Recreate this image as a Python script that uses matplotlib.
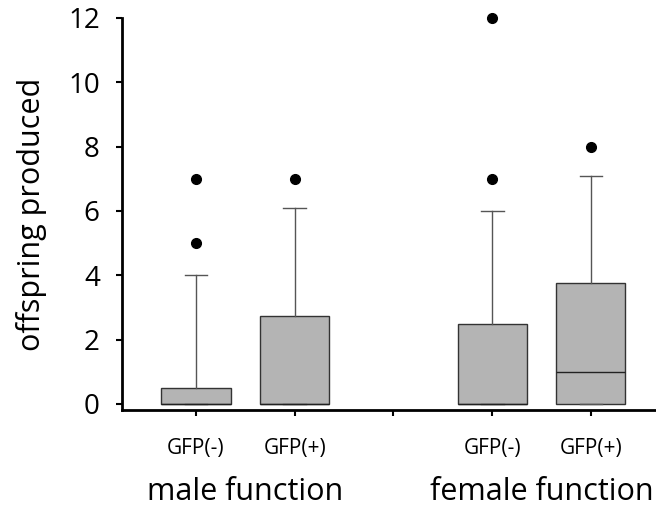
import matplotlib
matplotlib.use("Agg")
import matplotlib.pyplot as plt

plt.rcParams['font.family'] = ['Open Sans', 'DejaVu Sans']

# Data
groups = ["male function", "female function"]
labels = ["GFP(-)", "GFP(+)", "GFP(-)", "GFP(+)"]
positions = [1, 2, 4, 5]
q1 = [0, 0, 0, 0]
med = [0, 0, 0, 1]
q3 = [0.5, 2.75, 2.5, 3.75]
whislo = [0, 0, 0, 0]
whishi = [4, 6.1, 6, 7.1]
fliers = [[5, 7], [7], [7, 12], [8]]

stats = []
for i in range(4):
    stats.append(dict(med=med[i], q1=q1[i], q3=q3[i], whislo=whislo[i],
                      whishi=whishi[i], fliers=fliers[i], label=labels[i]))

fig = plt.figure(figsize=(6.56, 5.12), dpi=100)
ax = fig.add_axes([0.186, 0.199, 0.814, 0.766])

bp = ax.bxp(stats, positions=positions, widths=0.7, patch_artist=True,
            showfliers=True,
            boxprops=dict(facecolor='#b4b4b4', edgecolor='#333333', linewidth=1.0),
            medianprops=dict(color='#222222', linewidth=1.0),
            whiskerprops=dict(color='#555555', linewidth=1.0),
            capprops=dict(color='#555555', linewidth=1.0),
            capwidths=0.23,
            flierprops=dict(marker='o', markerfacecolor='black', markeredgecolor='black',
                            markersize=7))
for f in bp['fliers']:
    f.set_clip_on(False)

ax.set_xlim(0.25, 5.66)
ax.set_ylim(-0.19, 12)
ax.set_yticks([0, 2, 4, 6, 8, 10, 12])
ax.set_xticks([1, 2, 3, 4, 5])
ax.set_xticklabels([labels[0], labels[1], "", labels[2], labels[3]])
ax.tick_params(axis='y', labelsize=20, length=4, width=1.5, pad=12)
ax.tick_params(axis='x', labelsize=15, length=4.3, width=1.5, pad=16)
for s in ['top', 'right']:
    ax.spines[s].set_visible(False)
for s in ['left', 'bottom']:
    ax.spines[s].set_linewidth(2)
ax.spines['left'].set_bounds(-0.19, 12)

ax.set_ylabel("offspring produced", fontsize=22)
ax.yaxis.set_label_coords(-0.140, 0.5)

for g, x in zip(groups, [1.5, 4.5]):
    ax.text(x, -2.75, g, fontsize=22, ha='center', va='center',
            transform=ax.transData)

fig.savefig("out.png", dpi=100)
